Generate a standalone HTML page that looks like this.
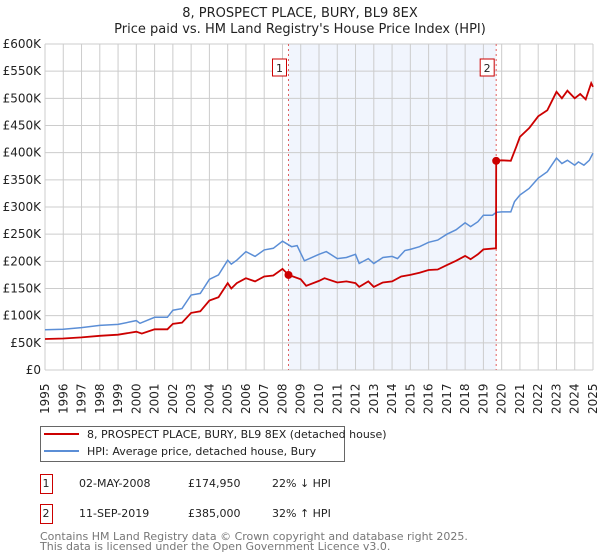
<!DOCTYPE html>
<html><head><meta charset="utf-8"><style>
body{margin:0;background:#fff;font-family:"Liberation Sans","DejaVu Sans",sans-serif;}
#wrap{position:relative;width:600px;height:560px;overflow:hidden;}
text{font-family:"DejaVu Sans","Liberation Sans",sans-serif;}
</style></head><body><div id="wrap">
<svg id="chart" width="600" height="560"></svg>
</div>
<script>
const yearTicks=[1995,1996,1997,1998,1999,2000,2001,2002,2003,2004,2005,2006,2007,2008,2009,2010,2011,2012,2013,2014,2015,2016,2017,2018,2019,2020,2021,2022,2023,2024,2025];
const valueTicks=[0,50,100,150,200,250,300,350,400,450,500,550,600];
const valueTickLabels=["£0","£50K","£100K","£150K","£200K","£250K","£300K","£350K","£400K","£450K","£500K","£550K","£600K"];
const hpiDates=[1995,1996,1997,1998,1999,2000,2000.2,2001,2001.7,2002,2002.5,2003,2003.5,2004,2004.5,2005,2005.2,2005.5,2006,2006.5,2007,2007.5,2008,2008.5,2008.8,2009,2009.2,2010,2010.4,2011,2011.5,2012,2012.2,2012.7,2013,2013.5,2014,2014.3,2014.7,2015,2015.5,2016,2016.5,2017,2017.5,2018,2018.3,2018.7,2019,2019.5,2019.7,2020,2020.5,2020.7,2021,2021.5,2022,2022.5,2023,2023.3,2023.6,2024,2024.2,2024.5,2024.8,2025];
const hpiValues=[74,75,78,82,84,91,86,97,97,110,113,138,141,167,175,202,195,202,218,209,221,224,237,227,229,215,201,213,218,205,207,213,196,205,196,207,209,205,220,222,227,235,239,250,258,271,264,273,285,285,290,291,291,310,322,334,353,365,390,380,386,377,383,377,386,399];
const priceDates=[1995,1996,1997,1998,1999,2000,2000.3,2001,2001.7,2002,2002.5,2003,2003.5,2004,2004.5,2005,2005.2,2005.5,2006,2006.5,2007,2007.5,2008,2008.33,2009,2009.3,2010,2010.3,2011,2011.5,2012,2012.2,2012.7,2013,2013.5,2014,2014.5,2015,2015.5,2016,2016.5,2017,2017.5,2018,2018.3,2018.7,2019,2019.69,2019.7,2020,2020.5,2020.8,2021,2021.5,2022,2022.5,2023,2023.3,2023.6,2024,2024.3,2024.6,2024.9,2025];
const priceValues=[57,58,60,63,65,70.5,67,75,75,85,87,105,108,128,134,160,150,160,169,163,172,174,186,175,167,155,164,169,161,163,160,153,163,153,161,163,172,175,179,184,185,193,201,210,204,213,222,224,385,386,385,411,429,445,467,478,512,500,514,500,508,498,528,521];
const saleDates=[2008.33,2019.7];
const saleValues=[174.95,385];
const saleLabels=["1","2"];
const NS="http://www.w3.org/2000/svg";
const svg=document.getElementById('chart');
const X0=45,X1=593,Y0=370,Y1=44;
const xs=d=>X0+(d-1995)/30*(X1-X0);
const ys=v=>Y0-v/600*(Y0-Y1);
function el(tag,attrs,parent){const e=document.createElementNS(NS,tag);for(const k in attrs)e.setAttribute(k,attrs[k]);(parent||svg).appendChild(e);return e;}
let t=el('text',{x:300,y:17,'text-anchor':'middle','font-size':13,fill:'#222'});t.textContent="8, PROSPECT PLACE, BURY, BL9 8EX";


t=el('text',{x:300,y:33,'text-anchor':'middle','font-size':13,fill:'#222'});t.textContent="Price paid vs. HM Land Registry's House Price Index (HPI)";


let r=el('rect',{x:xs(saleDates[0]),y:Y1,width:xs(saleDates[1])-xs(saleDates[0]),height:Y0-Y1,fill:'#eef2fc',opacity:0.8});


yearTicks.forEach(y=>{const l=el('line',{x1:xs(y),x2:xs(y),y1:Y1,y2:Y0,stroke:'#ccc','stroke-width':1});


const tx=el('text',{transform:`translate(${xs(y)+4},414) rotate(-90)`,'font-size':12,fill:'#222'});tx.textContent=y;

});
valueTicks.forEach((v,i)=>{const l=el('line',{x1:X0,x2:X1,y1:ys(v),y2:ys(v),stroke:'#ccc','stroke-width':1});


const tx=el('text',{x:41,y:ys(v)+4,'text-anchor':'end','font-size':12,fill:'#222'});tx.textContent=valueTickLabels[i];

});
saleDates.forEach((d,i)=>{const l=el('line',{x1:xs(d),x2:xs(d),y1:Y1,y2:Y0,stroke:'#e06060','stroke-width':1,'stroke-dasharray':'2,3'});


const b=el('rect',{x:xs(d)-16,y:59,width:14,height:17,fill:'#fff',stroke:'#c00'});


const tx=el('text',{x:xs(d)-9,y:72,'text-anchor':'middle','font-size':11,fill:'#222'});tx.textContent=saleLabels[i];

});
const pts=(ds,vs)=>ds.map((d,i)=>xs(d).toFixed(1)+','+ys(vs[i]).toFixed(1)).join(' ');
let p=el('polyline',{points:pts(hpiDates,hpiValues),fill:'none',stroke:'#5b8ed6','stroke-width':1.5});


p=el('polyline',{points:pts(priceDates,priceValues),fill:'none',stroke:'#cc0000','stroke-width':1.8});


saleDates.forEach((d,i)=>{const c=el('circle',{cx:xs(d),cy:ys(saleValues[i]),r:4,fill:'#cc0000'});

});
let lb=el('rect',{x:40.5,y:426.5,width:304,height:35,fill:'#fff',stroke:'#666'});


[['#cc0000',"8, PROSPECT PLACE, BURY, BL9 8EX (detached house)",438,'legend-entry-property'],['#5b8ed6',"HPI: Average price, detached house, Bury",455,'legend-entry-hpi']].forEach(e=>{
const l=el('line',{x1:44,x2:79,y1:e[2]-4,y2:e[2]-4,stroke:e[0],'stroke-width':2});


const tx=el('text',{x:87,y:e[2],'font-size':11,fill:'#222'});tx.textContent=e[1];

});
[["1","02-MAY-2008","£174,950","22% ↓ HPI",487],["2","11-SEP-2019","£385,000","32% ↑ HPI",517]].forEach(row=>{
const b=el('rect',{x:40.5,y:row[4]-12.5,width:12,height:19,fill:'#fff',stroke:'#c00'});


const cols=[[46,row[0],'middle'],[79,row[1],'start'],[188,row[2],'start'],[272,row[3],'start']];
cols.forEach(c=>{const tx=el('text',{x:c[0],y:row[4],'text-anchor':c[2],'font-size':11,fill:'#222'});tx.textContent=c[1];

});});
[["Contains HM Land Registry data © Crown copyright and database right 2025.",540],["This data is licensed under the Open Government Licence v3.0.",550]].forEach(f=>{
const tx=el('text',{x:40,y:f[1],'font-size':11,fill:'#777'});tx.textContent=f[0];

});
</script></body></html>
